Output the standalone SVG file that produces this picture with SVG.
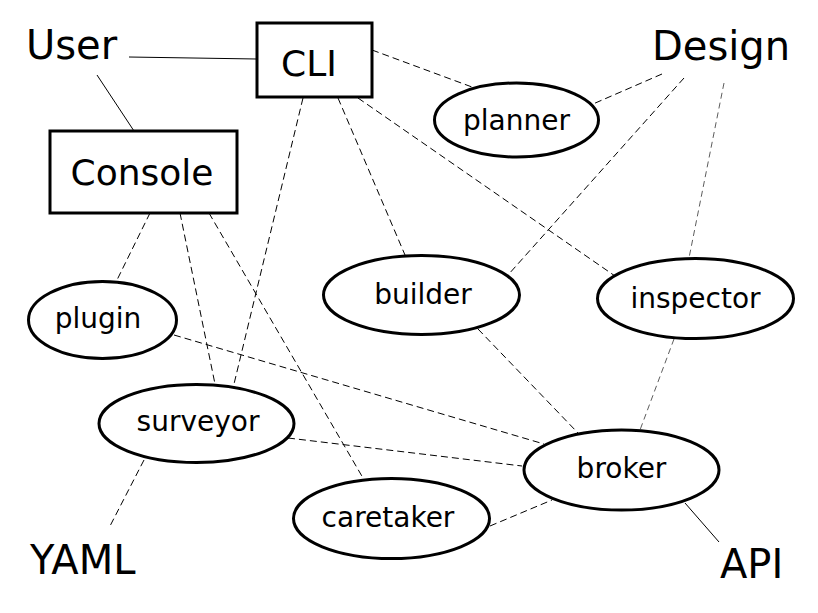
<svg xmlns="http://www.w3.org/2000/svg" width="818" height="613" viewBox="0 0 818 613">
<style>
  .bg{fill:#fff}
  .box{fill:#fff;stroke:#000;stroke-width:3}
  .ell{fill:#fff;stroke:#000;stroke-width:3}
  .lbl{font-family:"DejaVu Sans",sans-serif;font-size:28px;fill:#000;text-anchor:middle}
  .blbl{font-family:"DejaVu Sans",sans-serif;font-size:36px;fill:#000;text-anchor:middle}
  .ext{font-family:"DejaVu Sans",sans-serif;font-size:40px;fill:#000}
  .solid{stroke:#000;stroke-width:1;fill:none}
  .dash{stroke:#000;stroke-width:1;stroke-dasharray:7 4;fill:none}
  .thin{stroke:#333;stroke-width:0.8;stroke-dasharray:6 4;fill:none}
</style>
<rect class="bg" x="0" y="0" width="818" height="613"/>
<g id="connectors">
  <line class="solid" x1="129" y1="57" x2="257" y2="59"/>
  <line class="solid" x1="97" y1="75" x2="134" y2="131" stroke="#333" stroke-width="0.8"/>
  <line class="dash" x1="372" y1="50" x2="472" y2="87"/>
  <line class="dash" x1="338" y1="98" x2="405" y2="255"/>
  <line class="dash" x1="358" y1="98" x2="615" y2="276"/>
  <line class="dash" x1="303" y1="98" x2="234" y2="384"/>
  <line class="dash" x1="662" y1="74" x2="593" y2="104"/>
  <line class="dash" x1="684" y1="78" x2="508" y2="275"/>
  <line class="thin" x1="724" y1="83" x2="689" y2="258"/>
  <line class="dash" x1="150" y1="213" x2="117" y2="280"/>
  <line class="dash" x1="180" y1="213" x2="215" y2="384"/>
  <line class="dash" x1="209" y1="213" x2="363" y2="478"/>
  <line class="dash" x1="174" y1="335" x2="544" y2="444"/>
  <line class="dash" x1="288" y1="438" x2="522" y2="466"/>
  <line class="dash" x1="144" y1="460" x2="109" y2="528"/>
  <line class="dash" x1="478" y1="329" x2="578" y2="433"/>
  <line class="thin" x1="674" y1="339" x2="640" y2="430"/>
  <line class="dash" x1="490" y1="526" x2="552" y2="500"/>
  <line class="solid" x1="685" y1="503" x2="719" y2="542" stroke="#333" stroke-width="0.8"/>
</g>
<g id="User"><text class="ext" x="26" y="59">User</text></g>
<g id="Design"><text class="ext" x="652" y="60">Design</text></g>
<g id="YAML"><text class="ext" x="30" y="574">YAML</text></g>
<g id="API"><text class="ext" x="720" y="578">API</text></g>
<g id="CLI">
  <rect class="box" x="257" y="23" width="115" height="74"/>
  <text class="blbl" x="309" y="76">CLI</text>
</g>
<g id="Console">
  <rect class="box" x="50" y="131" width="187" height="82"/>
  <text class="blbl" x="142" y="185">Console</text>
</g>
<g id="planner">
  <ellipse class="ell" cx="516.5" cy="120" rx="82" ry="37"/>
  <text class="lbl" x="516.5" y="129.5">planner</text>
</g>
<g id="builder">
  <ellipse class="ell" cx="421.5" cy="295" rx="98" ry="39.5"/>
  <text class="lbl" x="423" y="304">builder</text>
</g>
<g id="inspector">
  <ellipse class="ell" cx="695.5" cy="298.5" rx="98" ry="40"/>
  <text class="lbl" x="695.5" y="307.5">inspector</text>
</g>
<g id="plugin">
  <ellipse class="ell" cx="102.5" cy="320" rx="74" ry="38.5"/>
  <text class="lbl" x="98" y="328">plugin</text>
</g>
<g id="surveyor">
  <ellipse class="ell" cx="196.5" cy="423.5" rx="97.5" ry="39"/>
  <text class="lbl" x="198" y="431">surveyor</text>
</g>
<g id="caretaker">
  <ellipse class="ell" cx="391.5" cy="518.5" rx="98" ry="40"/>
  <text class="lbl" x="388" y="527">caretaker</text>
</g>
<g id="broker">
  <ellipse class="ell" cx="621.5" cy="470" rx="97.5" ry="40"/>
  <text class="lbl" x="621.5" y="478">broker</text>
</g>
</svg>
